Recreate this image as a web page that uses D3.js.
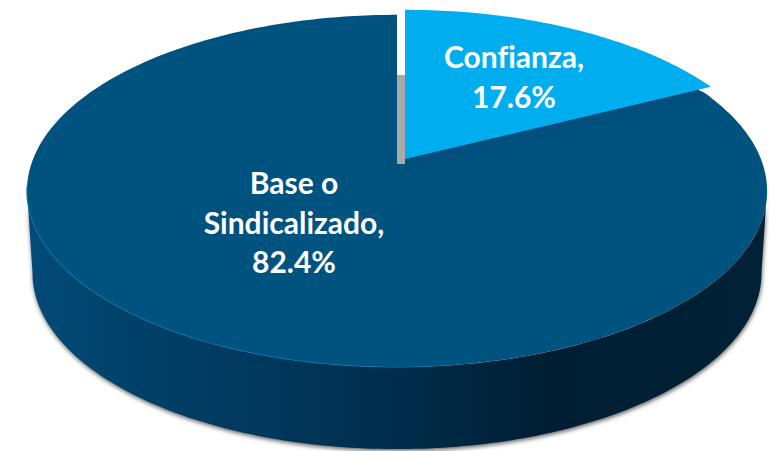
<!DOCTYPE html>
<html>
<head>
<meta charset="utf-8">
<script src="https://cdn.jsdelivr.net/npm/d3@7"></script>
<style>
html, body { margin: 0; padding: 0; background: #fff; }
svg { display: block; }
text { font-family: Lato, "Open Sans", sans-serif; font-weight: 700; fill: #fff; font-variant-ligatures: none; }
</style>
</head>
<body>
<div id="chart"></div>
<script>
const width = 769, height = 451

const categories = ["Confianza", "Base o Sindicalizado"]
const values = [17.6, 82.4]
const labelLines = [["Confianza,", "17.6%"], ["Base o", "Sindicalizado,", "82.4%"]]
const sliceColors = ["#00aeef", "#00527f"]

// perspective of the disc: apex, radius, tilt
const cx = 397, cy = 164, R = 365.7, S = 172, k = 0.153
const depth = 82

const svg = d3.select("#chart").append("svg")
  .attr("width", width)
  .attr("height", height)

const defs = svg.append("defs")

const sideGrad = defs.append("linearGradient")
  .attr("id", "side")
  .attr("gradientUnits", "userSpaceOnUse")
  .attr("x1", 27).attr("x2", 767).attr("y1", 0).attr("y2", 0)
sideGrad.selectAll("stop")
  .data([[0, "#024b78"], [0.14, "#014169"], [0.32, "#01385d"], [0.5, "#012d4b"], [0.7, "#001e33"], [1, "#012137"]])
  .join("stop")
  .attr("offset", d => d[0])
  .attr("stop-color", d => d[1])

const rimGrad = defs.append("linearGradient")
  .attr("id", "rimLight")
  .attr("gradientUnits", "userSpaceOnUse")
  .attr("x1", 27).attr("x2", 767).attr("y1", 0).attr("y2", 0)
rimGrad.selectAll("stop")
  .data([[0, "#0a6da5", 0.9], [0.5, "#0a6da5", 0.7], [0.65, "#0a6da5", 0], [1, "#0a6da5", 0]])
  .join("stop")
  .attr("offset", d => d[0])
  .attr("stop-color", d => d[1])
  .attr("stop-opacity", d => d[2])

defs.append("filter")
  .attr("id", "soft")
  .attr("x", "-5%").attr("y", "-5%").attr("width", "110%").attr("height", "110%")
  .append("feGaussianBlur").attr("stdDeviation", 2)

function project(a, r = 1) {
  const u = r * Math.sin(a), v = -r * Math.cos(a), w = 1 - k * v
  return [cx + R * u / w, cy + S * v / w]
}

const pie = d3.pie().sort(null).value(d => d)
const arcs = pie(values)

const line = d3.line()

function rim(a0, a1) {
  const n = Math.max(2, Math.ceil((a1 - a0) * 60))
  return d3.range(n + 1).map(i => project(a0 + (a1 - a0) * i / n))
}

// extruded wall: front half of the ellipse and the same edge pushed down
const frontRim = rim(Math.PI * 0.547, Math.PI * 1.453)
const lowerRim = frontRim.map(p => [397 + (p[0] - 397) * 0.985, p[1] + depth]).reverse()
const wall = frontRim.concat(lowerRim)

svg.append("path")
  .attr("d", line(wall.map(p => [p[0] + 0.5, p[1] + 2])) + "Z")
  .attr("fill", "#666")
  .attr("filter", "url(#soft)")

svg.append("path")
  .attr("d", line(wall) + "Z")
  .attr("fill", "url(#side)")

// main slice
const baseArc = arcs[1]
svg.append("path")
  .attr("d", line([[cx, cy], ...rim(baseArc.startAngle, baseArc.endAngle)]) + "Z")
  .attr("fill", sliceColors[1])

// thin light edge on the front of the top face
svg.append("path")
  .attr("d", line(rim(Math.PI * 0.9, Math.PI * 1.46)))
  .attr("fill", "none")
  .attr("stroke", "url(#rimLight)")
  .attr("stroke-width", 1.2)

// grey inner wall seen through the gap
svg.append("rect")
  .attr("x", cx).attr("y", 75)
  .attr("width", 8).attr("height", cy - 75)
  .attr("fill", "#a9a9ab")

// exploded slice, pulled up and to the right
const dx = 8, dy = -5
const blueArc = arcs[0]
const bluePts = [[cx, cy], ...rim(blueArc.startAngle, blueArc.endAngle)]

svg.append("path")
  .attr("d", line(bluePts.map(p => [p[0] + dx, p[1] + dy + 11])) + "Z")
  .attr("fill", "#004f7c")

svg.append("path")
  .attr("d", line(bluePts.map(p => [p[0] + dx, p[1] + dy])) + "Z")
  .attr("fill", sliceColors[0])

// labels
const labelPos = [[514, 68], [294, 194]]
const lineGap = [40, 39.5]

svg.selectAll("g.label")
  .data(labelLines)
  .join("g")
  .attr("class", "label")
  .attr("transform", (d, i) => `translate(${labelPos[i][0]},${labelPos[i][1]})`)
  .selectAll("text")
  .data((d, i) => d.map((t, j) => ({ t, y: j * lineGap[i] })))
  .join("text")
  .attr("text-anchor", "middle")
  .attr("y", d => d.y)
  .attr("font-size", 30)
  .text(d => d.t)
</script>
</body>
</html>
